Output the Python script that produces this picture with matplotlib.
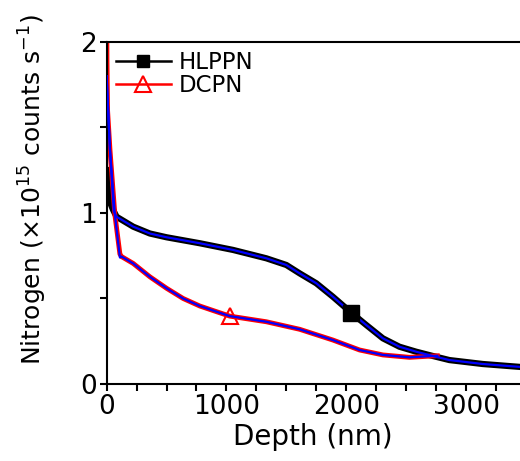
import numpy as np
import matplotlib
matplotlib.use("Agg")
import matplotlib.pyplot as plt
from matplotlib.lines import Line2D
from matplotlib.ticker import MultipleLocator

# values
hlppn_depth = [0, 5, 13, 30, 53, 83, 222, 361, 500, 778, 1055, 1333, 1500, 1611, 1750,
               1889, 2042, 2167, 2306, 2444, 2583, 2722, 2861, 3139, 3450]
hlppn_counts = [1.25, 1.22, 1.12, 1.06, 1.02, 0.978, 0.92, 0.88, 0.858, 0.823, 0.784,
                0.735, 0.696, 0.647, 0.589, 0.51, 0.417, 0.345, 0.267, 0.218, 0.189,
                0.164, 0.14, 0.117, 0.100]
hlppn_fit_depth = [0, 28, 60] + hlppn_depth[5:]
hlppn_fit = [1.80, 1.37, 1.01] + hlppn_counts[5:]

dcpn_depth = [0, 3, 8, 28, 69, 111, 125, 222, 361, 500, 639, 778, 917, 1028, 1333,
              1611, 1889, 2111, 2306, 2528, 2722, 2760]
dcpn_counts = [2.3, 1.9, 1.6, 1.37, 0.99, 0.76, 0.745, 0.705, 0.627, 0.56, 0.50, 0.456,
               0.423, 0.397, 0.364, 0.32, 0.257, 0.199, 0.17, 0.156, 0.164, 0.165]
dcpn_fit_depth = [0, 28, 69, 111] + dcpn_depth[6:]
dcpn_fit = [1.80, 1.37, 0.99, 0.74] + dcpn_counts[6:]

hlppn_mark = 2042
dcpn_mark = 1028

plt.rcParams['font.family'] = ['DejaVu Sans']
plt.rcParams['font.size'] = 19

fig = plt.figure(figsize=(5.2, 4.61), dpi=100)
ax = fig.add_axes([0.205, 0.167, 0.795, 0.742])

ax.plot(hlppn_depth, hlppn_counts, color='black', lw=4.5, zorder=2)
ax.plot(dcpn_depth, dcpn_counts, color='red', lw=3.5, zorder=2,
        marker='^', markevery=[dcpn_depth.index(dcpn_mark)], markersize=12,
        markerfacecolor='none', markeredgecolor='red', markeredgewidth=1.5)
ax.plot(hlppn_fit_depth, hlppn_fit, color='blue', lw=1.6, zorder=3)
ax.plot(dcpn_fit_depth, dcpn_fit, color='blue', lw=1.6, zorder=3)
i = hlppn_depth.index(hlppn_mark)
ax.plot([hlppn_depth[i]], [hlppn_counts[i]], ls='none', marker='s', markersize=11,
        color='black', zorder=4)

ax.set_xlim(0, 3450)
ax.set_ylim(0, 2)
ax.xaxis.set_major_locator(MultipleLocator(1000))
ax.xaxis.set_minor_locator(MultipleLocator(250))
ax.yaxis.set_major_locator(MultipleLocator(1))
ax.yaxis.set_minor_locator(MultipleLocator(0.5))
ax.tick_params(which='both', direction='out', length=5, width=1.5, top=False, right=False)
ax.tick_params(axis='both', labelsize=19, pad=2)

for s in ['left', 'bottom', 'top']:
    ax.spines[s].set_linewidth(1.5)
ax.spines['right'].set_visible(False)

ax.set_xlabel('Depth (nm)', fontsize=20, labelpad=2)
ax.set_ylabel('Nitrogen (×10$^{\\mathregular{15}}$ counts s$^{\\mathregular{-1}}$)',
              fontsize=18)
ax.yaxis.set_label_coords(-0.14, 0.567)

handles = [
    Line2D([], [], color='black', lw=1.8, marker='s', markersize=9),
    Line2D([], [], color='red', lw=1.8, marker='^', markersize=11,
           markerfacecolor='none', markeredgewidth=1.5),
]
ax.legend(handles, ['HLPPN', 'DCPN'], loc='upper left', frameon=False, fontsize=16.5,
          handlelength=2.4, handletextpad=0.35, labelspacing=0.0,
          borderaxespad=0.0, bbox_to_anchor=(0.0, 1.0))

fig.savefig('out.png', dpi=100)
